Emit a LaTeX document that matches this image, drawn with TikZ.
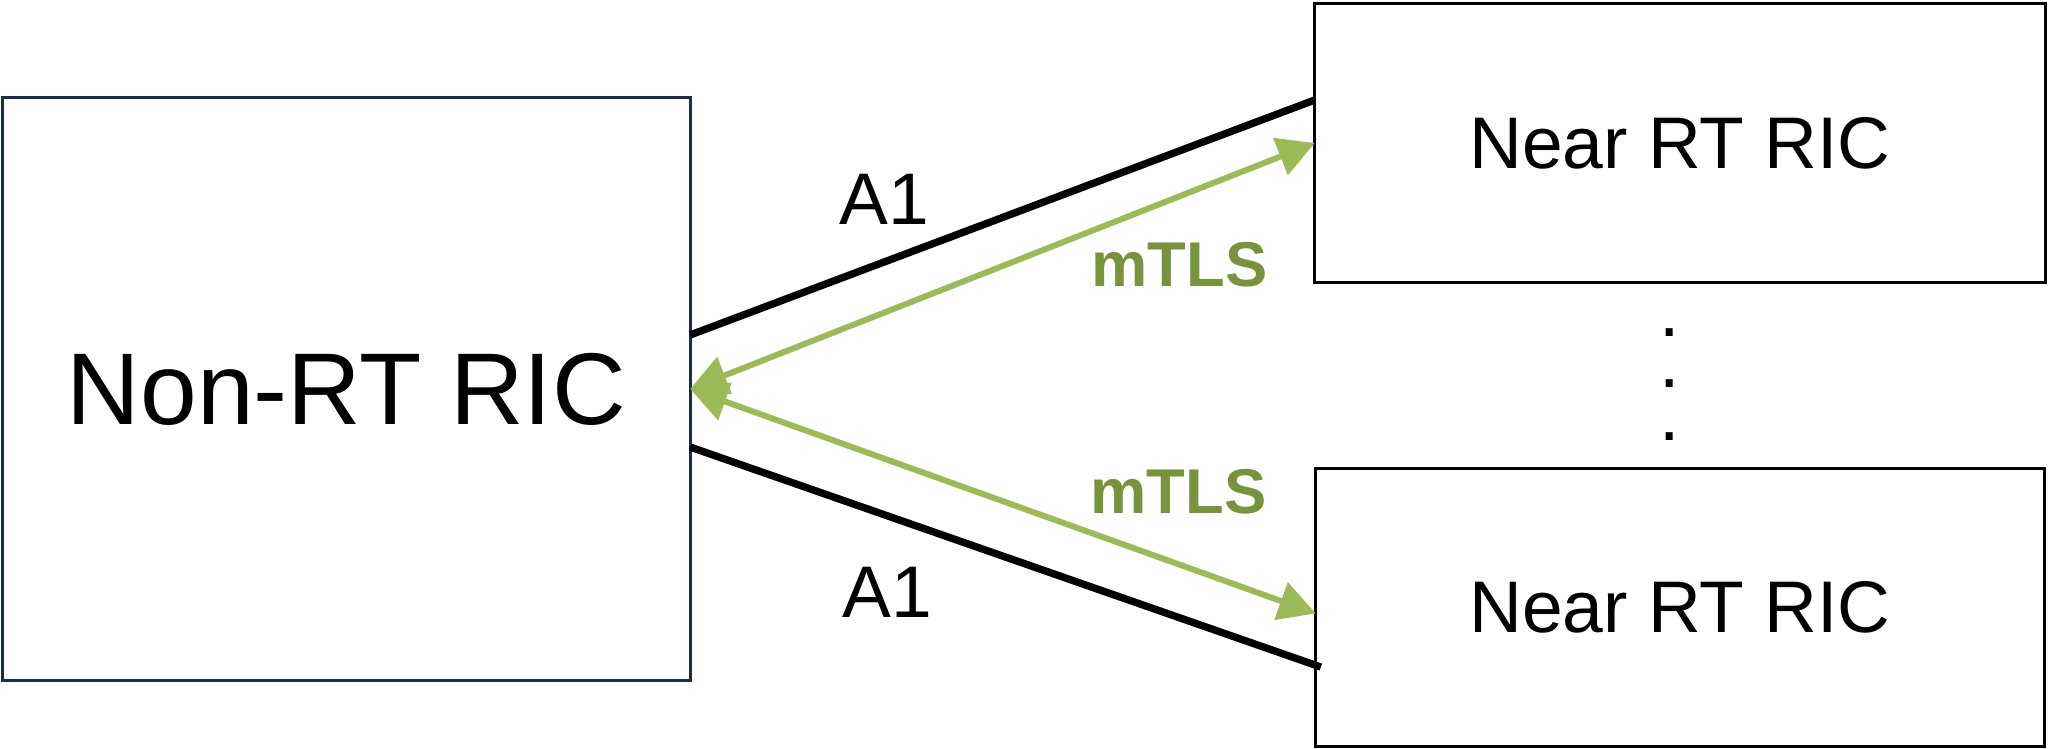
\documentclass[tikz,border=0pt]{standalone}
\usepackage{fontspec}
\setmainfont{Liberation Sans}
\usetikzlibrary{arrows.meta}

\begin{document}
\begin{tikzpicture}
[x=0.01cm,y=-0.01cm,line cap=butt,
% Styles
ric box/.style={draw,line width=0.85pt,inner sep=0pt,outer sep=0pt},
a1 line/.style={line width=2.1pt},
mtls line/.style={line width=1.7pt,mtlscolor,
  {Triangle[length=10.5pt,width=11pt]}-{Triangle[length=10.5pt,width=11pt]}},
a1 text/.style={font=\fontsize{20.8}{25}\selectfont,anchor=base west,inner sep=0pt},
mtls text/.style={font=\bfseries\fontsize{18}{22}\selectfont,
  text=mtlstextcolor,anchor=base west,inner sep=0pt}]
% Colors
\definecolor{mtlscolor}{HTML}{9BBB59}
\definecolor{mtlstextcolor}{HTML}{77933C}
\definecolor{nonrtcolor}{HTML}{1C2D46}
\useasboundingbox (0,0) rectangle (2048,748);
% The boxes
\node[ric box,draw=nonrtcolor,minimum width=6.87cm,minimum height=5.82cm,
  font=\fontsize{29}{34}\selectfont] (nonrt) at (346.5,389) {Non-RT RIC};
\node[ric box,minimum width=7.30cm,minimum height=2.78cm,
  font=\fontsize{20.8}{25}\selectfont] (nearrt1) at (1680,143) {Near RT RIC};
\node[ric box,minimum width=7.28cm,minimum height=2.77cm,
  font=\fontsize{20.8}{25}\selectfont] (nearrt2) at (1680,607.5) {Near RT RIC};
\foreach \y [count=\i] in {336,387,440}
  \node[anchor=base,inner sep=0pt,font=\fontsize{20.8}{25}\selectfont] (dot\i) at (1670,\y) {.};
% The links
\draw[a1 line] ([yshift=0.54cm]nonrt.east) -- ([yshift=-0.96cm]nearrt1.north west);
\draw[a1 line] ([yshift=-0.58cm]nonrt.east) -- ([xshift=0.05cm,yshift=0.79cm]nearrt2.south west);
\draw[mtls line] (nonrt.east) -- (nearrt1.west);
\draw[mtls line] (nonrt.east) -- ([yshift=-0.06cm]nearrt2.west);
% The labels
\node[a1 text] (a1top) at (839,224) {A1};
\node[a1 text] (a1bottom) at (842,617) {A1};
\node[mtls text] (mtlstop) at (1091,286) {mTLS};
\node[mtls text] (mtlsbottom) at (1090,513) {mTLS};
\end{tikzpicture}
\end{document}
